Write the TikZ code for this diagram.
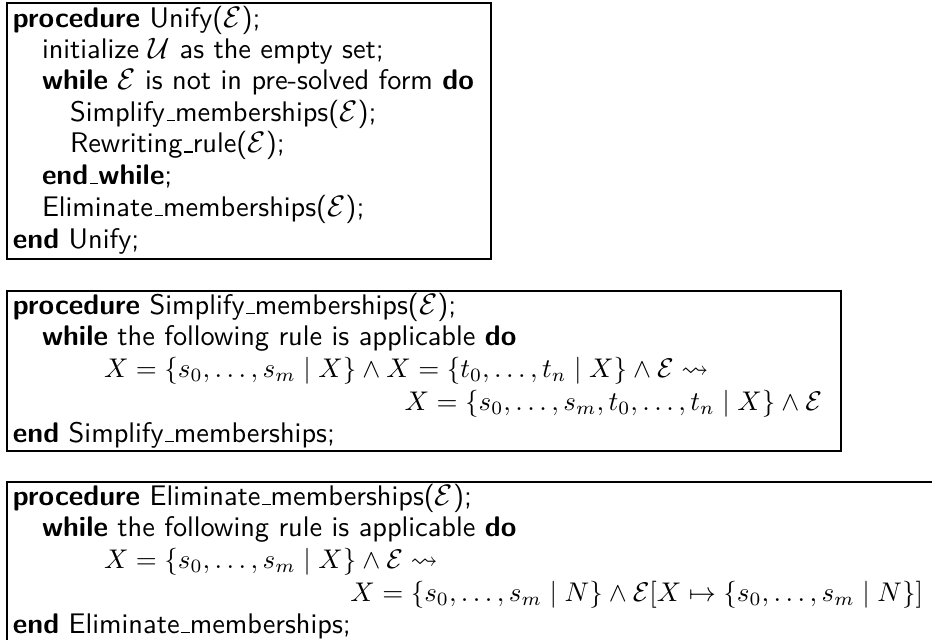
\documentclass[tikz,border=0pt]{standalone}
\usepackage{amssymb}
\renewcommand{\familydefault}{\sfdefault}
\newcommand{\us}{\leavevmode\kern.06em\vbox{\hrule width.3em}}
\begin{document}
\begin{tikzpicture}[x=0.3704pt,y=-0.3704pt,
  frame/.style={draw=black,line width=0.85pt},
  ln/.style={anchor=base west,inner sep=0pt,outer sep=0pt,font=\fontsize{10.5}{12.6}\selectfont\sffamily},
  mth/.style={anchor=base west,inner sep=0pt,outer sep=0pt,font=\fontsize{10}{12}\selectfont},
  mthr/.style={anchor=base east,inner sep=0pt,outer sep=0pt,font=\fontsize{10}{12}\selectfont}]
\useasboundingbox (0,0) rectangle (932,639);
\clip (0,0) rectangle (932,639);
% box 1
\draw[frame] (7,3) rectangle (491,259);
\node[ln] (a1) at (13,27) {\textbf{procedure} Unify($\mathcal{E}$);};
\node[ln] (a2) at (42,58) {initialize $\mathcal{U}$ as the empty set;};
\node[ln] (a3) at (42,89.5) {\textbf{while} $\mathcal{E}$ is not in pre-solved form \textbf{do}};
\node[ln] (a4) at (70,121) {Simplify\us memberships($\mathcal{E}$);};
\node[ln] (a5) at (70,152.5) {Rewriting\us rule($\mathcal{E}$);};
\node[ln] (a6) at (42,184) {\textbf{end\us while};};
\node[ln] (a7) at (42,216) {Eliminate\us memberships($\mathcal{E}$);};
\node[ln] (a8) at (13,248) {\textbf{end} Unify;};
% box 2
\draw[frame] (7,291) rectangle (841,451);
\node[ln] (b1) at (13,314) {\textbf{procedure} Simplify\us memberships($\mathcal{E}$);};
\node[ln] (b2) at (42,345) {\textbf{while} the following rule is applicable \textbf{do}};
\node[mth] (b3) at (104,377.5) {$X=\{s_0,\dots,s_m\mid X\}\wedge X=\{t_0,\dots,t_n\mid X\}\wedge\mathcal{E}\leadsto$};
\node[mthr] (b4) at (822,410) {$X=\{s_0,\dots,s_m,t_0,\dots,t_n\mid X\}\wedge\mathcal{E}$};
\node[ln] (b5) at (13,442) {\textbf{end} Simplify\us memberships;};
% box 3
\draw[frame] (7,482) rectangle (945,660);
\node[ln] (c1) at (13,505) {\textbf{procedure} Eliminate\us memberships($\mathcal{E}$);};
\node[ln] (c2) at (42,536) {\textbf{while} the following rule is applicable \textbf{do}};
\node[mth] (c3) at (104,568.5) {$X=\{s_0,\dots,s_m\mid X\}\wedge\mathcal{E}\leadsto$};
\node[mthr] (c4) at (923,601) {$X=\{s_0,\dots,s_m\mid N\}\wedge\mathcal{E}[X\mapsto\{s_0,\dots,s_m\mid N\}]$};
\node[ln] (c5) at (13,633) {\textbf{end} Eliminate\us memberships;};
\end{tikzpicture}
\end{document}
